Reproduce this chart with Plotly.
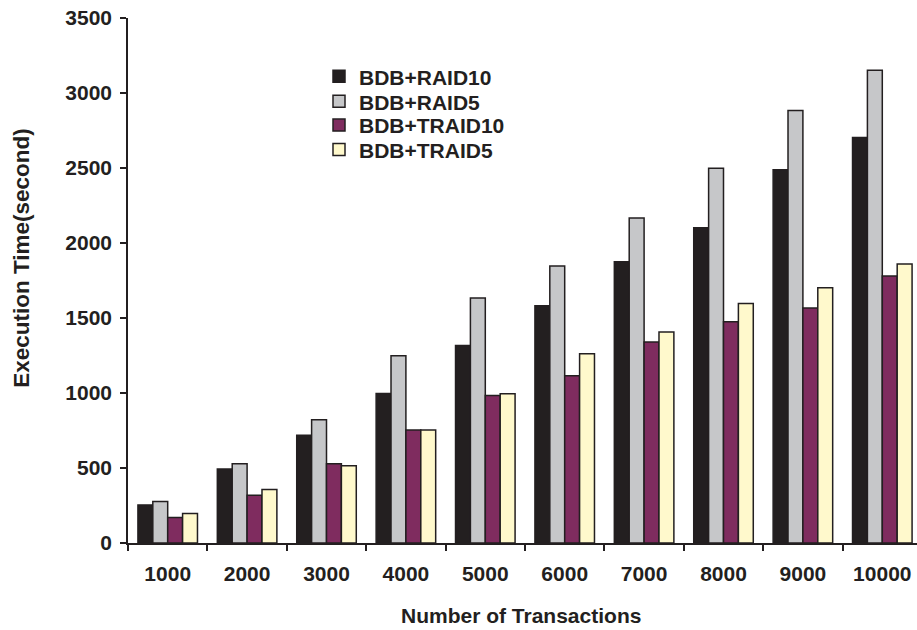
import plotly.graph_objects as go

categories = ["1000", "2000", "3000", "4000", "5000", "6000", "7000", "8000", "9000", "10000"]
bdb_raid10 = [254, 493, 719, 997, 1316, 1582, 1875, 2102, 2488, 2703]
bdb_raid5 = [276, 528, 822, 1248, 1634, 1847, 2167, 2499, 2884, 3152]
bdb_traid10 = [170, 318, 528, 754, 984, 1115, 1340, 1475, 1566, 1780]
bdb_traid5 = [197, 356, 515, 754, 995, 1261, 1407, 1597, 1701, 1860]
y_ticks = [0, 500, 1000, 1500, 2000, 2500, 3000, 3500]

series = [
    ("BDB+RAID10", bdb_raid10, "#231f20"),
    ("BDB+RAID5", bdb_raid5, "#c6c7c9"),
    ("BDB+TRAID10", bdb_traid10, "#7f2c5f"),
    ("BDB+TRAID5", bdb_traid5, "#fff9cc"),
]

ink = "#231f20"
font_family = "Liberation Sans, Arial, sans-serif"

W, H = 917, 630
PL, PR, PT, PB = 128, 917, 18, 543.3


def px(sx):
    return (sx - PL) / (PR - PL)


def py(sy):
    return (PB - sy) / (PB - PT)


fig = go.Figure()
legend_rows = [76.7, 101.7, 125.5, 150.0]
legend_names = ["legend", "legend2", "legend3", "legend4"]
for (name, vals, col), lg in zip(series, legend_names):
    fig.add_trace(go.Bar(
        x=categories, y=vals, name=name, legend=lg,
        marker=dict(color=col, line=dict(color=ink, width=1.5)),
    ))

legend_common = dict(
    x=px(319), xanchor="left", yanchor="middle",
    bgcolor="rgba(0,0,0,0)", borderwidth=0,
    font=dict(family=font_family, size=21, color=ink, weight="bold"),
    itemwidth=30,
)
legend_layouts = {lg: dict(legend_common, y=py(row)) for lg, row in zip(legend_names, legend_rows)}

fig.update_layout(
    width=W, height=H,
    paper_bgcolor="white", plot_bgcolor="white",
    margin=dict(l=PL, r=W - PR, t=PT, b=H - PB),
    barmode="group", bargap=0.25, bargroupgap=0,
    font=dict(family=font_family, color=ink, size=21),
    showlegend=True,
    xaxis=dict(
        type="category", range=[-0.5, 9.437],
        showline=True, linecolor=ink, linewidth=2,
        ticks="outside", tickson="boundaries", ticklen=6, tickwidth=1.5, tickcolor=ink,
        tickfont=dict(family=font_family, size=21, color=ink, weight="bold"),
        ticklabelstandoff=11, ticklabeloverflow="allow",
        showgrid=False, zeroline=False,
    ),
    yaxis=dict(
        range=[0, 3500], tickvals=y_ticks,
        showline=True, linecolor=ink, linewidth=1.5,
        ticks="outside", ticklen=6, tickwidth=1.5, tickcolor=ink,
        tickfont=dict(family=font_family, size=21, color=ink, weight="bold"),
        ticklabelstandoff=4, ticklabeloverflow="allow",
        showgrid=False, zeroline=False,
    ),
    annotations=[
        dict(text="Execution Time(second)", textangle=-90, xref="paper", yref="paper",
             x=px(22), y=py(258), xanchor="center", yanchor="middle",
             showarrow=False, font=dict(family=font_family, size=22.5, color=ink, weight="bold")),
        dict(text="Number of Transactions", xref="paper", yref="paper",
             x=px(521), y=py(616), xanchor="center", yanchor="middle",
             showarrow=False, font=dict(family=font_family, size=21, color=ink, weight="bold")),
    ],
    **legend_layouts,
)

fig.write_html(
    "out.html",
    config={"displayModeBar": False},
    post_script="document.body.style.margin='0';document.body.style.overflow='hidden';",
)
